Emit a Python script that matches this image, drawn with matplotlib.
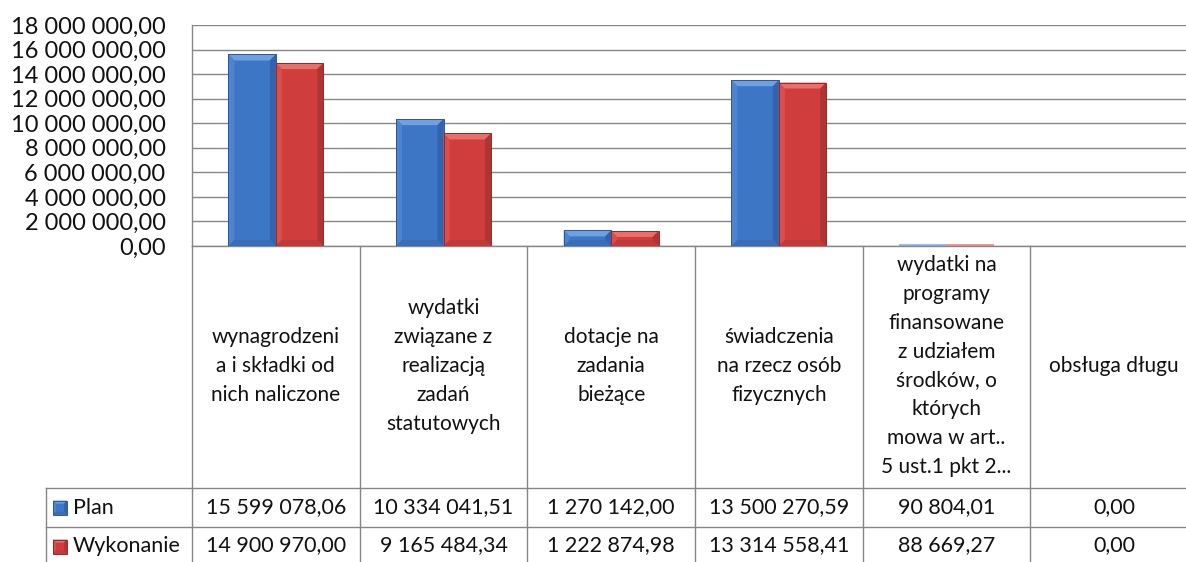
import numpy as np
import matplotlib
matplotlib.use("Agg")
import matplotlib.pyplot as plt
from matplotlib.patches import Polygon, Rectangle
from matplotlib.lines import Line2D
from matplotlib.transforms import IdentityTransform, blended_transform_factory

# --- data ---
categories = [
    "wynagrodzeni\na i składki od\nnich naliczone",
    "wydatki\nzwiązane z\nrealizacją\nzadań\nstatutowych",
    "dotacje na\nzadania\nbieżące",
    "świadczenia\nna rzecz osób\nfizycznych",
    "wydatki na\nprogramy\nfinansowane\nz udziałem\nśrodków, o\nktórych\nmowa w art..\n5 ust.1 pkt 2...",
    "obsługa długu",
]
plan = [15599078.06, 10334041.51, 1270142.00, 13500270.59, 90804.01, 0.00]
wykonanie = [14900970.00, 9165484.34, 1222874.98, 13314558.41, 88669.27, 0.00]
series_names = ["Plan", "Wykonanie"]
y_ticks = np.arange(0, 18000001, 2000000)

# colours: main, dark edge, top bevel, left, right, bottom
BLUE = ("#3E76C6", "#2D5896", "#6FA0E4", "#4C84D2", "#3263AC", "#3A6DB8")
RED = ("#CF3E3D", "#902927", "#EC6E6A", "#DA4F4C", "#B03432", "#C03A39")
GRID = "#868686"
TXT = "#111111"

plt.rcParams['font.family'] = ['Lato', 'DejaVu Sans']

W, H = 1186, 562
fig = plt.figure(figsize=(W / 100, H / 100), dpi=100)


def fx(px):
    return px / W


def fy(py):
    return 1 - py / H


def fmt(v):
    return f"{v:,.2f}".replace(",", " ").replace(".", ",")


# plot area: 192..1198 px wide (runs past the right edge), 25..246 px tall
ax = fig.add_axes([fx(192), fy(246), fx(1198 - 192), (246 - 25) / H])
ax.set_xlim(-0.5, len(categories) - 0.5)
ax.set_ylim(0, 18000000)
ax.set_yticks(y_ticks)
ax.set_yticklabels([fmt(t) for t in y_ticks], fontsize=17, color=TXT)
ax.tick_params(axis="y", length=0, pad=19)
ax.set_xticks([])
for s in ("top", "right"):
    ax.spines[s].set_visible(False)
for s in ("left", "bottom"):
    ax.spines[s].set_color(GRID)
    ax.spines[s].set_linewidth(1.0)
ax.yaxis.grid(True, color=GRID, linewidth=1.0)
ax.set_axisbelow(True)

x = np.arange(len(categories))
bw = 0.283
bars_p = ax.bar(x - bw / 2, plan, bw, color=BLUE[0], linewidth=0, zorder=2)
bars_w = ax.bar(x + bw / 2, wykonanie, bw, color=RED[0], linewidth=0, zorder=2)


def bevel(add, x0, y0, x1, y1, pal, b=6):
    b = min(b, (y1 - y0) / 2, (x1 - x0) / 2)
    if b <= 0:
        return
    faces = [
        ([(x0, y1), (x1, y1), (x1 - b, y1 - b), (x0 + b, y1 - b)], pal[2]),
        ([(x0, y0), (x0 + b, y0 + b), (x0 + b, y1 - b), (x0, y1)], pal[3]),
        ([(x1, y0), (x1 - b, y0 + b), (x1 - b, y1 - b), (x1, y1)], pal[4]),
        ([(x0, y0), (x1, y0), (x1 - b, y0 + b), (x0 + b, y0 + b)], pal[5]),
    ]
    for pts, c in faces:
        add(Polygon(pts, closed=True, facecolor=c, edgecolor="none",
                    transform=IdentityTransform(), zorder=3))
    add(Rectangle((x0, y0), x1 - x0, y1 - y0, facecolor="none", edgecolor=pal[1],
                  linewidth=0.7, transform=IdentityTransform(), zorder=4))


for bars, pal in ((bars_p, BLUE), (bars_w, RED)):
    for r in bars:
        bb = r.get_window_extent()
        if bb.height < 4:
            # tiny bars show only as a pale sliver on the axis
            r.set_height(r.get_height() * 2.2)
            r.set_facecolor(pal[2])
            r.set_alpha(0.7)
            continue
        bevel(ax.add_patch, bb.x0, bb.y0, bb.x1, bb.y1, pal)

# --- data table below the plot ---
tr = blended_transform_factory(ax.transData, fig.transFigure)
row_top, row_mid, row_bot, table_bot = 246, 488, 527, 566

for i in range(len(categories) + 1):
    fig.add_artist(Line2D([i - 0.5, i - 0.5], [fy(row_top), fy(table_bot)],
                          transform=tr, color=GRID, linewidth=1.0))
for yy in (row_mid, row_bot, table_bot):
    fig.add_artist(Line2D([fx(46), 1.05], [fy(yy), fy(yy)],
                          transform=fig.transFigure, color=GRID, linewidth=1.0))
fig.add_artist(Line2D([fx(46), fx(46)], [fy(row_mid), fy(table_bot)],
                      transform=fig.transFigure, color=GRID, linewidth=1.0))

for i, cat in enumerate(categories):
    fig.text(i, fy((row_top + row_mid) / 2 - 1), cat, transform=tr, ha="center",
             va="center", fontsize=15, linespacing=1.56, color=TXT)
    fig.text(i, fy((row_mid + row_bot) / 2), fmt(plan[i]), transform=tr,
             ha="center", va="center", fontsize=15.5, color=TXT)
    fig.text(i, fy((row_bot + table_bot) / 2 - 1), fmt(wykonanie[i]), transform=tr,
             ha="center", va="center", fontsize=15.5, color=TXT)

# legend keys inside the table's first column
for name, pal, (top, bot) in zip(series_names, (BLUE, RED),
                                 ((row_mid, row_bot), (row_bot, table_bot))):
    cy = (top + bot) / 2
    s = 14
    x0, y0 = 53, H - (cy + s / 2)
    fig.add_artist(Rectangle((x0, y0), s, s, facecolor=pal[0], edgecolor="none",
                             transform=IdentityTransform()))
    bevel(fig.add_artist, x0, y0, x0 + s, y0 + s, pal, b=3)
    fig.text(fx(73), fy(cy), name, ha="left", va="center", fontsize=15.5, color=TXT)

fig.savefig("out.png", dpi=100)
